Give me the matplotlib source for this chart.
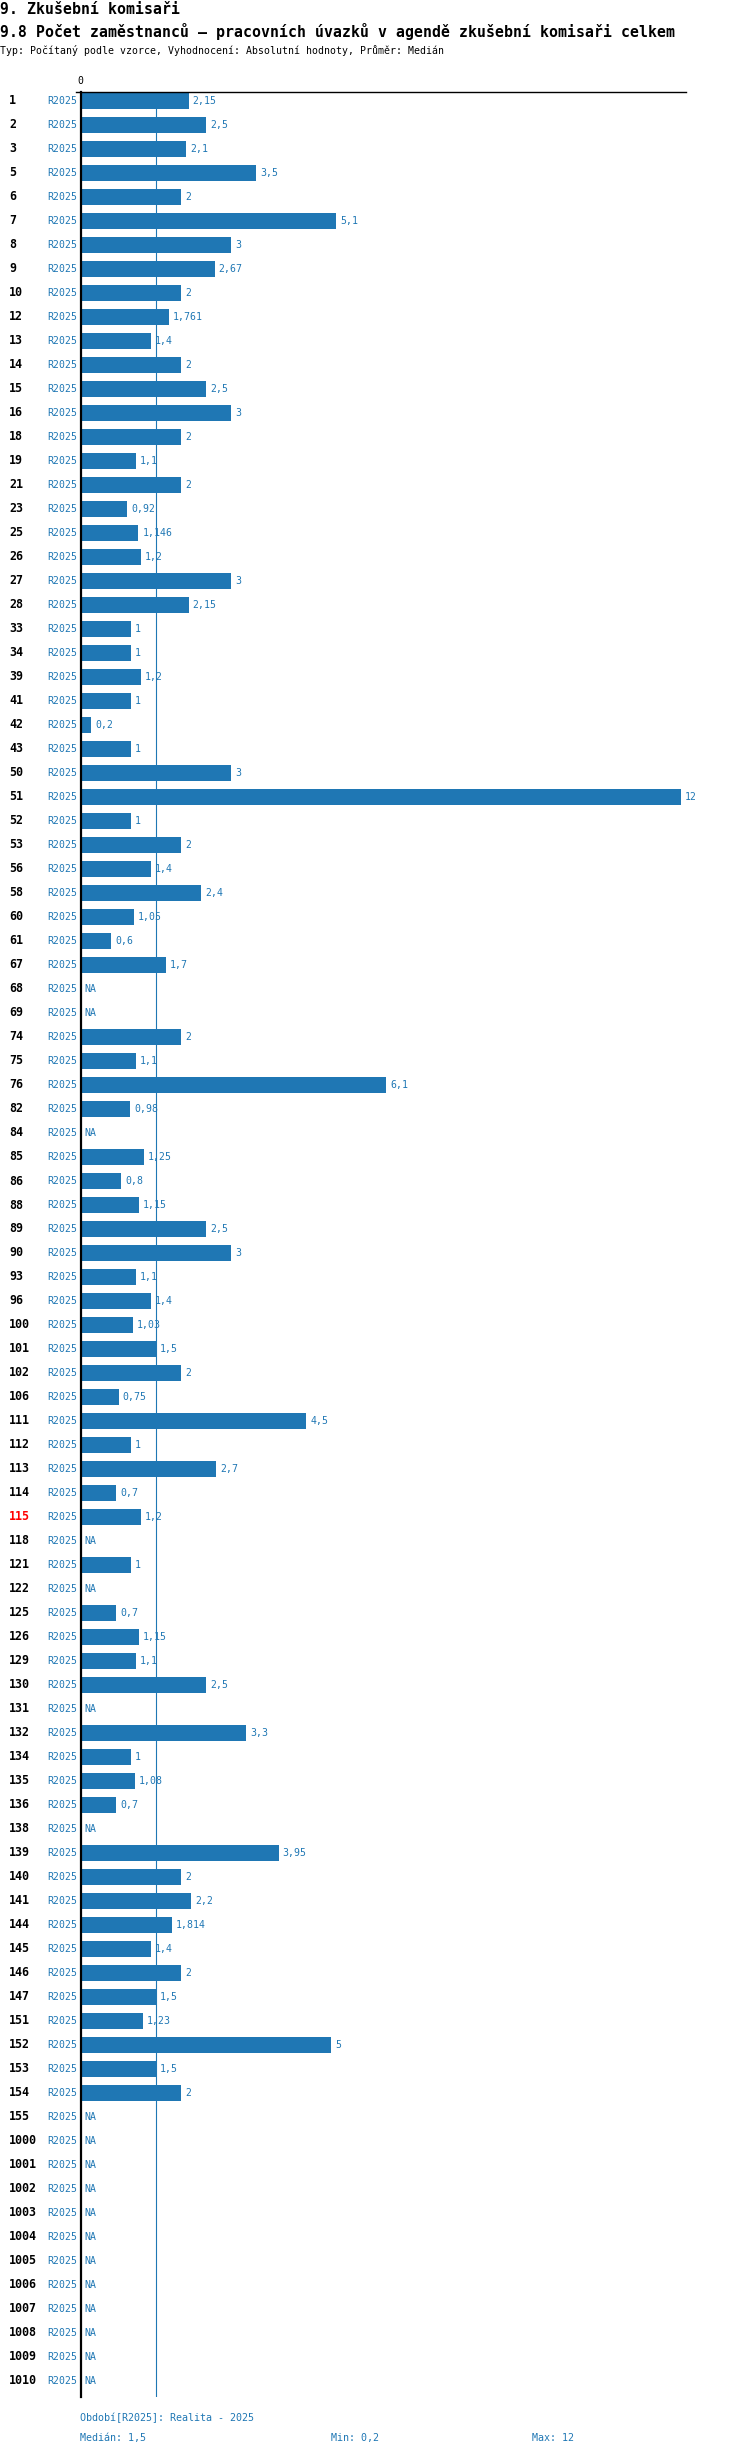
import matplotlib
matplotlib.use("Agg")
import matplotlib.pyplot as plt

# data (None = NA)
categories = ["1", "2", "3", "5", "6", "7", "8", "9", "10", "12",
              "13", "14", "15", "16", "18", "19", "21", "23", "25", "26",
              "27", "28", "33", "34", "39", "41", "42", "43", "50", "51",
              "52", "53", "56", "58", "60", "61", "67", "68", "69", "74",
              "75", "76", "82", "84", "85", "86", "88", "89", "90", "93",
              "96", "100", "101", "102", "106", "111", "112", "113", "114", "115",
              "118", "121", "122", "125", "126", "129", "130", "131", "132", "134",
              "135", "136", "138", "139", "140", "141", "144", "145", "146", "147",
              "151", "152", "153", "154", "155", "1000", "1001", "1002", "1003", "1004",
              "1005", "1006", "1007", "1008", "1009", "1010"]

values = [2.15, 2.5, 2.1, 3.5, 2, 5.1, 3, 2.67, 2, 1.761,
          1.4, 2, 2.5, 3, 2, 1.1, 2, 0.92, 1.146, 1.2,
          3, 2.15, 1, 1, 1.2, 1, 0.2, 1, 3, 12,
          1, 2, 1.4, 2.4, 1.05, 0.6, 1.7, None, None, 2,
          1.1, 6.1, 0.98, None, 1.25, 0.8, 1.15, 2.5, 3, 1.1,
          1.4, 1.03, 1.5, 2, 0.75, 4.5, 1, 2.7, 0.7, 1.2,
          None, 1, None, 0.7, 1.15, 1.1, 2.5, None, 3.3, 1,
          1.08, 0.7, None, 3.95, 2, 2.2, 1.814, 1.4, 2, 1.5,
          1.23, 5, 1.5, 2, None, None, None, None, None, None,
          None, None, None, None, None, None]

highlight = "115"
period = "R2025"
median = 1.5
vmin = 0.2
vmax = 12

blue = "#1f77b4"
mono = "DejaVu Sans Mono"

W, H = 750, 2456
fig = plt.figure(figsize=(W / 100, H / 100), dpi=100)

# axes placed in pixel terms
x0, x1 = 81, 686
y_top, y_bot = 92, 2397
ax = fig.add_axes([x0 / W, 1 - y_bot / H, (x1 - x0) / W, (y_bot - y_top) / H])

n = len(categories)
ax.set_xlim(0, (x1 - x0) / 50)
ax.set_ylim(n - 1 + 16 / 24, -9 / 24)

for i, (cat, v) in enumerate(zip(categories, values)):
    if v is not None:
        ax.barh(i, v, height=0.667, color=blue)
        ax.annotate(f"{v:g}".replace(".", ","), (v, i), xytext=(3, 0),
                    textcoords="offset points", va="center", ha="left",
                    fontsize=7.1, family=mono, color=blue)
    else:
        ax.annotate("NA", (0, i), xytext=(2.2, 0), textcoords="offset points",
                    va="center", ha="left", fontsize=7.1, family=mono, color=blue)
    # category label and period label
    ax.text(9 / W, 1 - (101 + i * 24) / H, cat, transform=fig.transFigure,
            ha="left", va="center", fontsize=8.4, family=mono, weight="bold",
            color="red" if cat == highlight else "black")
    ax.text(77 / W, 1 - (101 + i * 24) / H, period, transform=fig.transFigure,
            ha="right", va="center", fontsize=7.1, family=mono, color=blue)

# median line
ax.axvline(median, color=blue, lw=0.8)

for s in ["top", "right", "bottom"]:
    ax.spines[s].set_visible(False)
ax.spines["left"].set_linewidth(1.6)
ax.spines["left"].set_color("black")
ax.plot([-0.1, ax.get_xlim()[1]], [ax.get_ylim()[1]] * 2, color="black",
        lw=1.0, clip_on=False)
ax.set_xticks([])
ax.set_yticks([])
fig.text(80.5 / W, 1 - 81 / H, "0", ha="center", va="center", fontsize=7.1, family=mono)

# titles
fig.text(0, 1 - 9 / H, "9. Zkušební komisaři", ha="left", va="center",
         fontsize=10.75, family=mono, weight="bold")
fig.text(0, 1 - 31 / H,
         "9.8 Počet zaměstnanců – pracovních úvazků v agendě zkušební komisaři celkem",
         ha="left", va="center", fontsize=10.75, family=mono, weight="bold")
fig.text(0, 1 - 51 / H,
         "Typ: Počítaný podle vzorce, Vyhodnocení: Absolutní hodnoty, Průměr: Medián",
         ha="left", va="center", fontsize=7.15, family=mono)

# footer
fig.text(80 / W, 1 - 2418 / H, "Období[R2025]: Realita - 2025", ha="left", va="center",
         fontsize=7.2, family=mono, color=blue)
fig.text(80 / W, 1 - 2438 / H, "Medián: " + f"{median:g}".replace(".", ","),
         ha="left", va="center", fontsize=7.2, family=mono, color=blue)
fig.text(331 / W, 1 - 2438 / H, "Min: " + f"{vmin:g}".replace(".", ","),
         ha="left", va="center", fontsize=7.2, family=mono, color=blue)
fig.text(532 / W, 1 - 2438 / H, "Max: " + f"{vmax:g}".replace(".", ","),
         ha="left", va="center", fontsize=7.2, family=mono, color=blue)

fig.savefig("out.png", dpi=100, facecolor="white")
